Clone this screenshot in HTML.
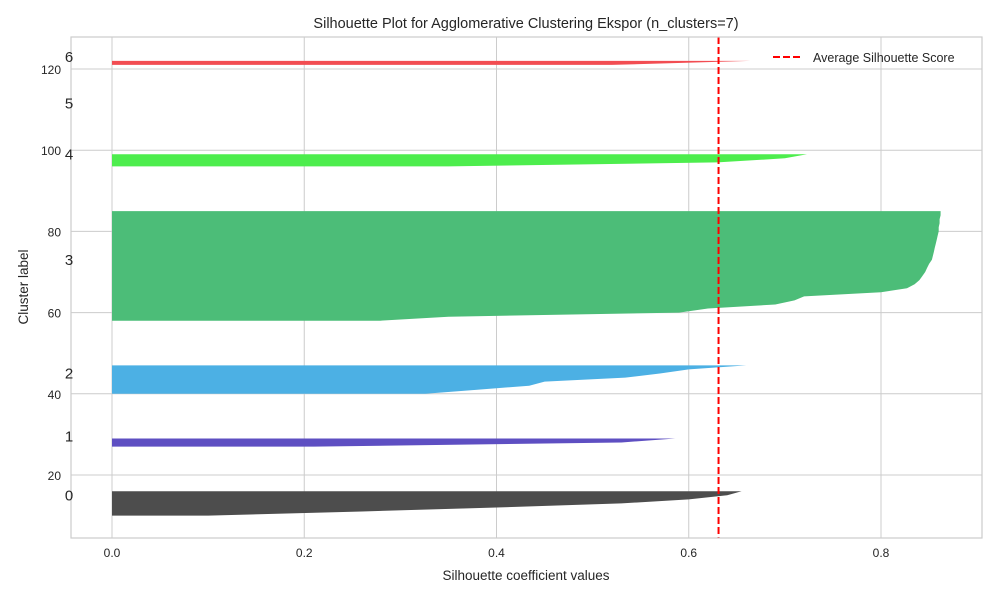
<!DOCTYPE html>
<html><head><meta charset="utf-8"><style>
html,body{margin:0;padding:0;background:#fff;}
svg{display:block;font-family:"Liberation Sans",Arial,sans-serif;}
</style></head><body>
<svg id="chart" width="1000" height="600" viewBox="0 0 1000 600" xmlns="http://www.w3.org/2000/svg">
<rect width="1000" height="600" fill="#fff"/>
<g id="grid"></g>
<g id="marks"></g>
<g id="axes"></g>
<g id="labels"></g>
<text x="526" y="28" font-size="14.5" text-anchor="middle" fill="#262626">Silhouette Plot for Agglomerative Clustering Ekspor (n_clusters=7)</text>
<text x="526" y="580" font-size="13.5" text-anchor="middle" fill="#262626">Silhouette coefficient values</text>
<text x="0" y="0" font-size="13.5" text-anchor="middle" fill="#262626" transform="translate(28,287) rotate(-90)">Cluster label</text>
<g>
<line x1="773" y1="57" x2="801" y2="57" stroke="#ff0000" stroke-width="2" stroke-dasharray="7,3"/>
<text x="813" y="62" font-size="12.5" fill="#262626">Average Silhouette Score</text>
</g>
</svg>
<script>
const clusterIds=[0,1,2,3,4,5,6];
const clusterStart=[10,27,40,58,96,112,121];
const clusterColors=["#4d4d4d","#5e4fc2","#4cb0e4","#4cbd78","#4ded4d","#dddd4d","#f24d52"];
const clusterLabelY=[15,29.5,45,73,99,111.5,123];
const silhouette0=[0.1,0.26,0.40,0.53,0.60,0.64,0.655];
const silhouette1=[0.21,0.53,0.586];
const silhouette2=[0.326,0.38,0.434,0.45,0.534,0.57,0.6,0.66];
const silhouette3=[0.279,0.35,0.59,0.62,0.69,0.71,0.72,0.80,0.827,0.835,0.840,0.843,0.846,0.848,0.850,0.853,0.854,0.855,0.856,0.857,0.858,0.859,0.860,0.860,0.861,0.861,0.862,0.862];
const silhouette4=[0.35,0.63,0.70,0.723];
const silhouette5=[];
const silhouette6=[0.52,0.664];
const avgScore=0.631;
const xTicks=[0,0.2,0.4,0.6,0.8];
const xTickLabels=["0.0","0.2","0.4","0.6","0.8"];
const yTicks=[20,40,60,80,100,120];
const yTickLabels=["20","40","60","80","100","120"];

const L=71,R=982,T=37,B=538;
const X=v=>112+961.25*v;
const Y=v=>556.2-4.06*v;
const NS="http://www.w3.org/2000/svg";
function mk(tag,parent){const e=document.createElementNS(NS,tag);parent.appendChild(e);return e;}
const grid=document.getElementById('grid'),marks=document.getElementById('marks'),labels=document.getElementById('labels'),axes=document.getElementById('axes');
xTicks.forEach((t,i)=>{
  const l=mk('line',grid);
  
  
  l.setAttribute('x1',X(t));l.setAttribute('x2',X(t));l.setAttribute('y1',T);l.setAttribute('y2',B);
  l.setAttribute('stroke','#cccccc');l.setAttribute('stroke-width','1');
  const tx=mk('text',axes);
  
  
  tx.setAttribute('x',X(t));tx.setAttribute('y',557);tx.setAttribute('font-size','12');tx.setAttribute('text-anchor','middle');tx.setAttribute('fill','#262626');
  tx.textContent=xTickLabels[i];
});
yTicks.forEach((t,i)=>{
  const l=mk('line',grid);
  
  
  l.setAttribute('x1',L);l.setAttribute('x2',R);l.setAttribute('y1',Y(t));l.setAttribute('y2',Y(t));
  l.setAttribute('stroke','#cccccc');l.setAttribute('stroke-width','1');
  const tx=mk('text',axes);
  
  
  tx.setAttribute('x',61);tx.setAttribute('y',Y(t)+5);tx.setAttribute('font-size','12');tx.setAttribute('text-anchor','end');tx.setAttribute('fill','#262626');
  tx.textContent=yTickLabels[i];
});
const series=[silhouette0,silhouette1,silhouette2,silhouette3,silhouette4,silhouette5,silhouette6];
series.forEach((vals,c)=>{
  if(vals.length){
    const y0=clusterStart[c];
    let pts=[[X(0),Y(y0)]];
    vals.forEach((v,i)=>pts.push([X(v),Y(y0+i)]));
    pts.push([X(0),Y(y0+vals.length-1)]);
    const p=mk('polygon',marks);
    
    
    p.setAttribute('points',pts.map(q=>q[0].toFixed(1)+','+q[1].toFixed(1)).join(' '));
    p.setAttribute('fill',clusterColors[c]);
  }
  const tx=mk('text',labels);
  
  
  tx.setAttribute('x',69);tx.setAttribute('y',Y(clusterLabelY[c])+5);tx.setAttribute('font-size','15');tx.setAttribute('text-anchor','middle');tx.setAttribute('fill','#262626');
  tx.textContent=String(clusterIds[c]);
});
const av=mk('line',marks);


av.setAttribute('x1',X(avgScore));av.setAttribute('x2',X(avgScore));av.setAttribute('y1',T);av.setAttribute('y2',B);
av.setAttribute('stroke','#ff0000');av.setAttribute('stroke-width','2');av.setAttribute('stroke-dasharray','7,3');
const fr=mk('rect',axes);


fr.setAttribute('x',L);fr.setAttribute('y',T);fr.setAttribute('width',R-L);fr.setAttribute('height',B-T);
fr.setAttribute('fill','none');fr.setAttribute('stroke','#cccccc');fr.setAttribute('stroke-width','1.2');
</script>
</body></html>
